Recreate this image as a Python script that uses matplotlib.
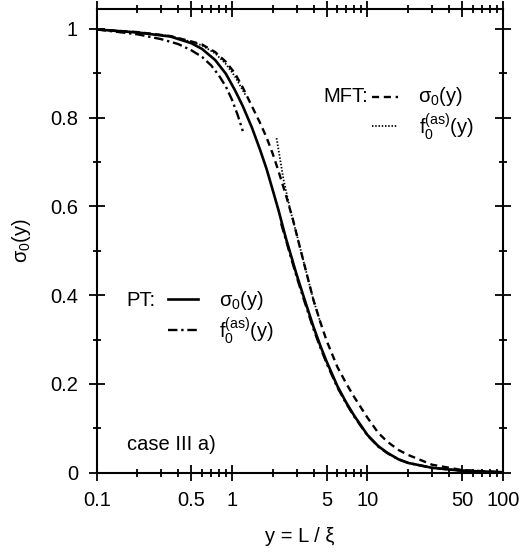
import matplotlib
matplotlib.use("Agg")
import matplotlib.pyplot as plt
import matplotlib.ticker as ticker

plt.rcParams["font.family"] = ["Liberation Sans", "DejaVu Sans"]
plt.rcParams["mathtext.fontset"] = "custom"
plt.rcParams["mathtext.rm"] = "Liberation Sans"
plt.rcParams["mathtext.it"] = "Liberation Sans:italic"

# y = L / xi grid
y_grid = [0.1, 0.2, 0.35, 0.5, 0.6, 0.75, 0.9, 1.05, 1.2, 1.4, 1.6, 1.8,
          2.0, 2.2, 2.5, 2.8, 3.0, 3.4, 4.0, 4.5, 5.0, 6.0, 7.0, 8.0, 10,
          12, 14, 17, 20, 30, 50, 100]

# PT: sigma_0(y)  (solid)
pt_sigma = [0.999, 0.992, 0.983, 0.968, 0.955, 0.930, 0.899, 0.862, 0.826,
            0.778, 0.730, 0.684, 0.636, 0.592, 0.528, 0.477, 0.446, 0.394,
            0.328, 0.285, 0.250, 0.195, 0.157, 0.128, 0.085, 0.060, 0.045,
            0.030, 0.022, 0.011, 0.0045, 0.001]

# MFT: sigma_0(y)  (dashed)
mft_y = [0.1, 0.2, 0.35, 0.5, 0.6, 0.75, 0.9, 1.05, 1.2, 1.4, 1.6, 1.8,
         2.0, 2.2, 2.5, 2.8, 3.2, 3.6, 4.0, 4.5, 5.0, 6.0, 7.0, 8.0, 10,
         12, 14, 17, 20, 30, 50, 100]
mft_sigma = [0.999, 0.993, 0.984, 0.972, 0.965, 0.948, 0.926, 0.900, 0.868,
             0.826, 0.790, 0.755, 0.718, 0.680, 0.625, 0.573, 0.503, 0.442,
             0.388, 0.338, 0.297, 0.238, 0.200, 0.170, 0.124, 0.090, 0.070,
             0.051, 0.040, 0.018, 0.006, 0.001]

# PT: f_0^(as)(y), small-y branch and large-y branch (dash-dot)
pt_as_small_y = [0.1, 0.2, 0.3, 0.4, 0.5, 0.6, 0.7, 0.8, 0.9, 1.0, 1.1, 1.2]
pt_as_small = [0.999, 0.988, 0.977, 0.966, 0.952, 0.937, 0.918, 0.895,
               0.870, 0.840, 0.806, 0.770]
pt_as_large_y = [2.3, 2.5, 2.8, 3.0, 3.4, 4.0, 4.5, 5.0, 6.0, 7.0, 8.0, 10,
                 12, 14, 17, 20, 30, 50, 100]
pt_as_large = [0.562, 0.524, 0.472, 0.441, 0.389, 0.323, 0.281, 0.246,
               0.192, 0.155, 0.126, 0.084, 0.059, 0.044, 0.030, 0.022,
               0.011, 0.0045, 0.001]

# MFT: f_0^(as)(y), small-y branch and large-y branch (dotted)
mft_as_small_y = [0.1, 0.2, 0.35, 0.5, 0.6, 0.75, 0.9, 1.05, 1.25]
mft_as_small = [0.999, 0.993, 0.984, 0.971, 0.963, 0.945, 0.921, 0.893, 0.852]
mft_as_large_y = [2.13, 2.4, 2.7, 3.0, 3.6, 4.0, 4.5]
mft_as_large = [0.754, 0.660, 0.590, 0.537, 0.442, 0.388, 0.338]

x_ticks = [0.1, 0.5, 1, 5, 10, 50, 100]
x_ticklabels = ["0.1", "0.5", "1", "5", "10", "50", "100"]
y_ticks = [0, 0.2, 0.4, 0.6, 0.8, 1]
y_ticklabels = ["0", "0.2", "0.4", "0.6", "0.8", "1"]

fs = 14.5
lw = 1.7
dash = (0, (3.0, 2.0))
dot = (0, (0.8, 1.0))
dashdot = (0, (4.0, 1.6, 1.0, 1.6))

fig = plt.figure(figsize=(5.2, 5.53), dpi=100)
ax = fig.add_axes([0.186, 0.1452, 0.781, 0.8385])

ax.plot(y_grid, pt_sigma, color="black", lw=lw + 0.2, ls="-")
ax.plot(mft_y, mft_sigma, color="black", lw=lw, ls=dash)
ax.plot(pt_as_small_y, pt_as_small, color="black", lw=lw, ls=dashdot)
ax.plot(pt_as_large_y, pt_as_large, color="black", lw=lw, ls=dashdot)
ax.plot(mft_as_small_y, mft_as_small, color="black", lw=1.3, ls=dot)
ax.plot(mft_as_large_y, mft_as_large, color="black", lw=1.3, ls=dot)

ax.set_xscale("log")
ax.set_xlim(0.1, 100)
ax.set_ylim(0, 1.045)

ax.xaxis.set_major_locator(ticker.FixedLocator(x_ticks))
ax.xaxis.set_major_formatter(ticker.FixedFormatter(x_ticklabels))
ax.xaxis.set_minor_locator(ticker.LogLocator(base=10, subs=(2, 3, 4, 6, 7, 8, 9)))
ax.xaxis.set_minor_formatter(ticker.NullFormatter())
ax.yaxis.set_major_locator(ticker.FixedLocator(y_ticks))
ax.yaxis.set_major_formatter(ticker.FixedFormatter(y_ticklabels))
ax.yaxis.set_minor_locator(ticker.MultipleLocator(0.1))

ax.tick_params(which="both", direction="inout", top=True, right=True,
               labelsize=fs, width=1.3, color="black")
ax.tick_params(which="major", length=11, pad=8)
ax.tick_params(which="minor", length=6)
for sp in ax.spines.values():
    sp.set_linewidth(1.5)

ax.set_xlabel("y = L / ξ", fontsize=fs, labelpad=12)
ax.set_ylabel("σ$_0$(y)", fontsize=fs, labelpad=12)

# legend blocks, drawn in axes fraction
tr = ax.transAxes
ax.text(0.668, 0.811, "MFT:", transform=tr, fontsize=fs, ha="right", va="center")
ax.plot([0.679, 0.742], [0.811, 0.811], transform=tr, color="black", lw=lw, ls=dash)
ax.text(0.792, 0.811, "σ$_0$(y)", transform=tr, fontsize=fs, ha="left", va="center")
ax.plot([0.679, 0.742], [0.747, 0.747], transform=tr, color="black", lw=1.3, ls=dot)
ax.text(0.794, 0.747, r"f$_0^{\mathrm{(as)}}$(y)", transform=tr, fontsize=fs,
        ha="left", va="center")

ax.text(0.074, 0.372, "PT:", transform=tr, fontsize=fs, ha="left", va="center")
ax.plot([0.176, 0.250], [0.374, 0.374], transform=tr, color="black", lw=lw + 0.2, ls="-")
ax.text(0.302, 0.372, "σ$_0$(y)", transform=tr, fontsize=fs, ha="left", va="center")
ax.plot([0.176, 0.250], [0.307, 0.307], transform=tr, color="black", lw=lw, ls=dashdot)
ax.text(0.302, 0.307, r"f$_0^{\mathrm{(as)}}$(y)", transform=tr, fontsize=fs,
        ha="left", va="center")

ax.text(0.074, 0.060, "case III a)", transform=tr, fontsize=fs, ha="left", va="center")

fig.savefig("out.png", dpi=100)
